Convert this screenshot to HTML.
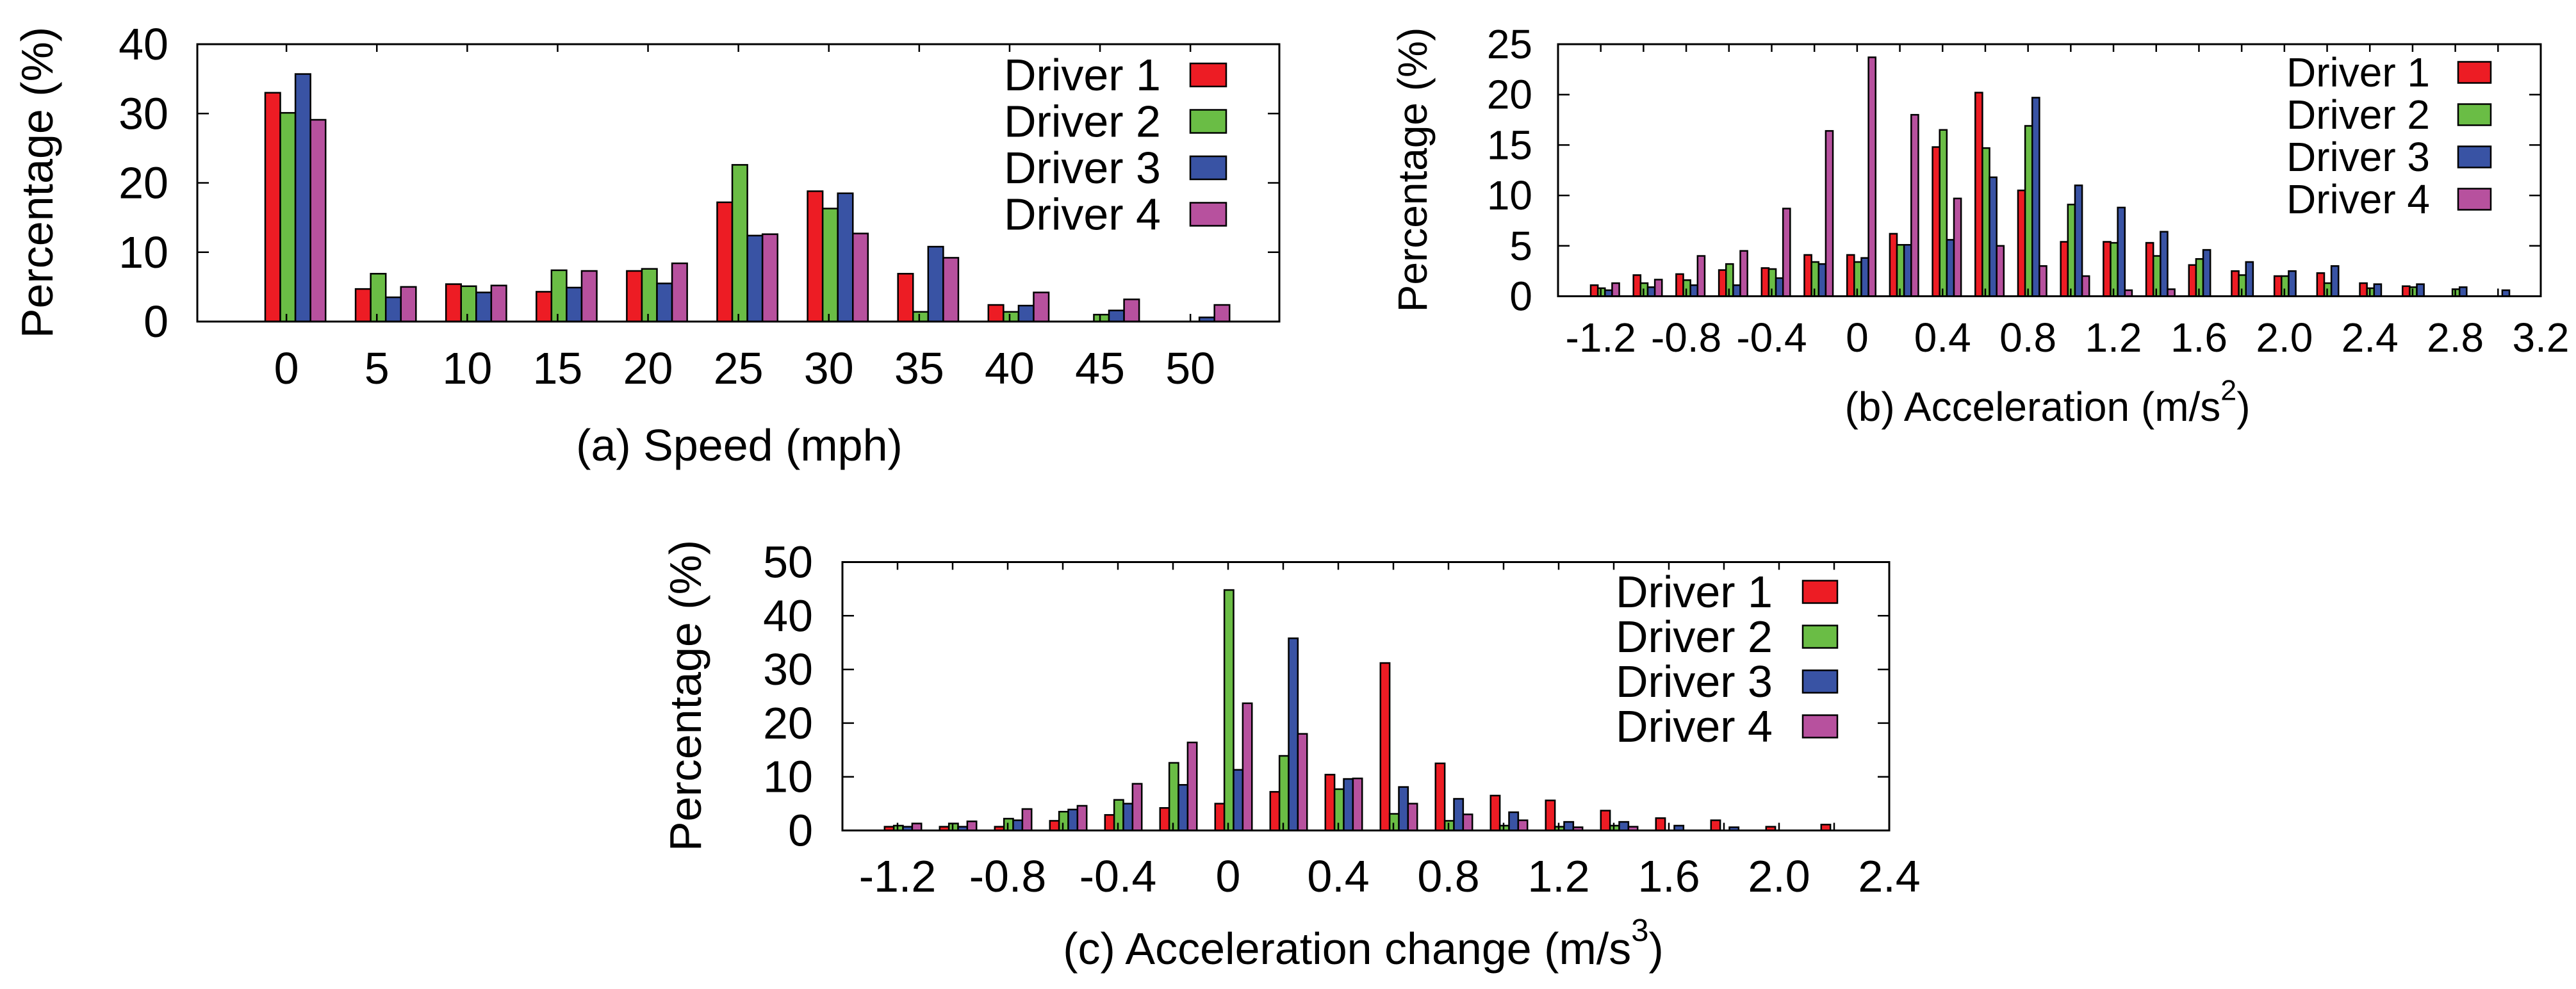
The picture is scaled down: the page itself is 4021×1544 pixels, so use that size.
<!DOCTYPE html>
<html><head><meta charset="utf-8"><style>
html,body{margin:0;padding:0;background:#fff;}
svg{display:block;font-family:"Liberation Sans",sans-serif;}
</style></head><body>
<svg id="root" width="4021" height="1544" viewBox="0 0 4021 1544" xmlns="http://www.w3.org/2000/svg"></svg>
<script>
// ---- Chart (a) data: speed ----
const speedCats = [0,5,10,15,20,25,30,35,40,45,50];
const speedD1 = [33.0,4.7,5.4,4.3,7.3,17.2,18.8,6.9,2.4,0,0];
const speedD2 = [30.1,6.9,5.1,7.4,7.6,22.6,16.3,1.4,1.4,1.0,0];
const speedD3 = [35.7,3.5,4.2,4.9,5.5,12.4,18.5,10.8,2.3,1.6,0.6];
const speedD4 = [29.1,5.0,5.2,7.3,8.4,12.6,12.7,9.2,4.2,3.2,2.4];
const speedYTicks = [0,10,20,30,40];

// ---- Chart (b) data: acceleration ----
const accCats = [-1.2,-1.0,-0.8,-0.6,-0.4,-0.2,0,0.2,0.4,0.6,0.8,1.0,1.2,1.4,1.6,1.8,2.0,2.2,2.4,2.6,2.8,3.0];
const accD1 = [1.1,2.1,2.2,2.6,2.8,4.1,4.1,6.2,14.8,20.2,10.5,5.4,5.4,5.3,3.1,2.5,2.0,2.3,1.3,1.0,0,0];
const accD2 = [0.8,1.3,1.6,3.2,2.7,3.4,3.4,5.1,16.5,14.7,16.9,9.1,5.3,4.0,3.7,2.1,2.0,1.3,0.8,0.9,0.7,0];
const accD3 = [0.6,0.9,1.1,1.1,1.8,3.2,3.8,5.1,5.6,11.8,19.7,11.0,8.8,6.4,4.6,3.4,2.5,3.0,1.2,1.2,0.9,0.6];
const accD4 = [1.3,1.65,4.0,4.5,8.7,16.4,23.7,18.0,9.7,5.0,3.0,2.0,0.6,0.7,0,0,0,0,0,0,0,0];
const accXLabels = ["-1.2","-0.8","-0.4","0","0.4","0.8","1.2","1.6","2.0","2.4","2.8","3.2"];
const accYTicks = [0,5,10,15,20,25];

// ---- Chart (c) data: acceleration change ----
const jerkCats = [-1.2,-1.0,-0.8,-0.6,-0.4,-0.2,0,0.2,0.4,0.6,0.8,1.0,1.2,1.4,1.6,1.8,2.0,2.2];
const jerkD1 = [0.7,0.7,0.7,1.8,2.9,4.2,5.0,7.2,10.4,31.2,12.5,6.5,5.6,3.7,2.3,1.9,0.7,1.1];
const jerkD2 = [0.9,1.3,2.2,3.5,5.7,12.6,44.8,13.9,7.7,3.1,1.8,0.9,0.7,0.9,0,0,0,0];
const jerkD3 = [0.7,0.7,1.9,3.9,5.0,8.5,11.3,35.8,9.6,8.1,5.9,3.4,1.6,1.6,0.9,0.6,0,0];
const jerkD4 = [1.3,1.7,4.0,4.6,8.7,16.4,23.7,18.0,9.7,5.0,3.0,1.9,0.6,0.7,0,0,0,0];
const jerkXLabels = ["-1.2","-0.8","-0.4","0","0.4","0.8","1.2","1.6","2.0","2.4"];
const jerkYTicks = [0,10,20,30,40,50];

const seriesNames = ["Driver 1","Driver 2","Driver 3","Driver 4"];
const colors = ["#ed1c24","#6abd45","#3953a4","#b7519e"];

const NS = "http://www.w3.org/2000/svg";
const root = document.getElementById('root');
function mk(tag, attrs, parent){
  const e = document.createElementNS(NS, tag);
  for (const k in attrs) e.setAttribute(k, attrs[k]);
  (parent||root).appendChild(e);
  return e;
}

function drawChart(cfg){
  const g = mk('g', {});
  
  
  const {L,R,T,B,xmin,xmax,ymax,fs} = cfg;
  const xs = v => L + (v - xmin) / (xmax - xmin) * (R - L);
  const ys = v => B - v / ymax * (B - T);
  const step = xs(cfg.step) - xs(0);
  cfg.series.forEach((arr, si) => {
    arr.forEach((v, i) => {
      if (v <= 0) return;
      const x0 = xs(cfg.cats[i]) - 0.235 * step + si * 0.167 * step;
      const r = mk('rect', {x:x0, y:ys(v), width:0.167*step, height:B-ys(v), fill:colors[si], stroke:'#000', 'stroke-width':2.5}, g);
      
      
    });
  });
  const fr = mk('rect', {x:L, y:T, width:R-L, height:B-T, fill:'none', stroke:'#000', 'stroke-width':3}, g);
  
  
  cfg.cats.forEach(c => {
    mk('line', {x1:xs(c), x2:xs(c), y1:T, y2:T+12, stroke:'#000', 'stroke-width':2.5}, g);
    mk('line', {x1:xs(c), x2:xs(c), y1:B, y2:B-12, stroke:'#000', 'stroke-width':2.5}, g);
  });
  cfg.xLabels.forEach((lab, i) => {
    const t = mk('text', {x:xs(cfg.xLabelVals[i]), y:cfg.xLabY, 'font-size':fs, 'text-anchor':'middle', 'dominant-baseline':'central'}, g);
    t.textContent = lab;
    
    
  });
  cfg.yTicks.forEach(v => {
    mk('line', {x1:L, x2:L+18, y1:ys(v), y2:ys(v), stroke:'#000', 'stroke-width':2.5}, g);
    mk('line', {x1:R, x2:R-18, y1:ys(v), y2:ys(v), stroke:'#000', 'stroke-width':2.5}, g);
    const t = mk('text', {x:cfg.yLabX, y:ys(v), 'font-size':fs, 'text-anchor':'end', 'dominant-baseline':'central'}, g);
    t.textContent = v;
    
    
  });
  const yt = mk('text', {x:0, y:0, 'font-size':fs, 'text-anchor':'middle', 'dominant-baseline':'central', transform:`translate(${cfg.yTitleX},${cfg.yTitleY}) rotate(-90)`}, g);
  yt.textContent = 'Percentage (%)';
  
  
  const xt = mk('text', {x:cfg.xTitleX, y:cfg.xTitleY, 'font-size':fs, 'text-anchor':'middle', 'dominant-baseline':'central'}, g);
  xt.textContent = cfg.xTitle;
  if (cfg.sup){
    const s = mk('tspan', {'font-size':fs*0.7, dy:-fs*0.4}, xt);
    s.textContent = cfg.sup;
    const s2 = mk('tspan', {dy:fs*0.4}, xt);
    s2.textContent = ')';
  }
  
  
  seriesNames.forEach((n, i) => {
    const cy = cfg.legY0 + i * cfg.legDy;
    const lg = mk('g', {}, g);
    
    
    const t = mk('text', {x:cfg.legTextR, y:cy, 'font-size':fs, 'text-anchor':'end', 'dominant-baseline':'central'}, lg);
    t.textContent = n;
    mk('rect', {x:cfg.swX, y:cy - cfg.swH/2, width:cfg.swW, height:cfg.swH, fill:colors[i], stroke:'#000', 'stroke-width':2.5}, lg);
  });
}

drawChart({name:'speed-chart', short:'speed', L:308, R:1997, T:69, B:502, xmin:-4.93, xmax:54.92, ymax:40, step:5, fs:70,
  cats:speedCats, series:[speedD1,speedD2,speedD3,speedD4],
  xLabels:speedCats.map(String), xLabelVals:speedCats, xLabY:575,
  yTicks:speedYTicks, yLabX:263, yTitleX:58, yTitleY:285,
  xTitle:'(a) Speed (mph)', xTitleX:1154, xTitleY:695,
  legTextR:1812, legY0:117, legDy:72.5, swX:1858, swW:56, swH:36});

drawChart({name:'acceleration-chart', short:'acc', L:2432, R:3966, T:69, B:462.5, xmin:-1.4, xmax:3.2, ymax:25, step:0.2, fs:64,
  cats:accCats, series:[accD1,accD2,accD3,accD4],
  xLabels:accXLabels, xLabelVals:accXLabels.map(Number), xLabY:527,
  yTicks:accYTicks, yLabX:2392, yTitleX:2205, yTitleY:265,
  xTitle:'(b) Acceleration (m/s', sup:'2', xTitleX:3196, xTitleY:635,
  legTextR:3793, legY0:113, legDy:66, swX:3837, swW:51, swH:33});

drawChart({name:'acceleration-change-chart', short:'jerk', L:1315, R:2949, T:877.5, B:1296.5, xmin:-1.4, xmax:2.4, ymax:50, step:0.2, fs:70,
  cats:jerkCats, series:[jerkD1,jerkD2,jerkD3,jerkD4],
  xLabels:jerkXLabels, xLabelVals:jerkXLabels.map(Number), xLabY:1368,
  yTicks:jerkYTicks, yLabX:1269, yTitleX:1070, yTitleY:1086,
  xTitle:'(c) Acceleration change (m/s', sup:'3', xTitleX:2128, xTitleY:1481,
  legTextR:2767, legY0:924, legDy:70, swX:2814, swW:54, swH:35});
</script>
</body></html>
